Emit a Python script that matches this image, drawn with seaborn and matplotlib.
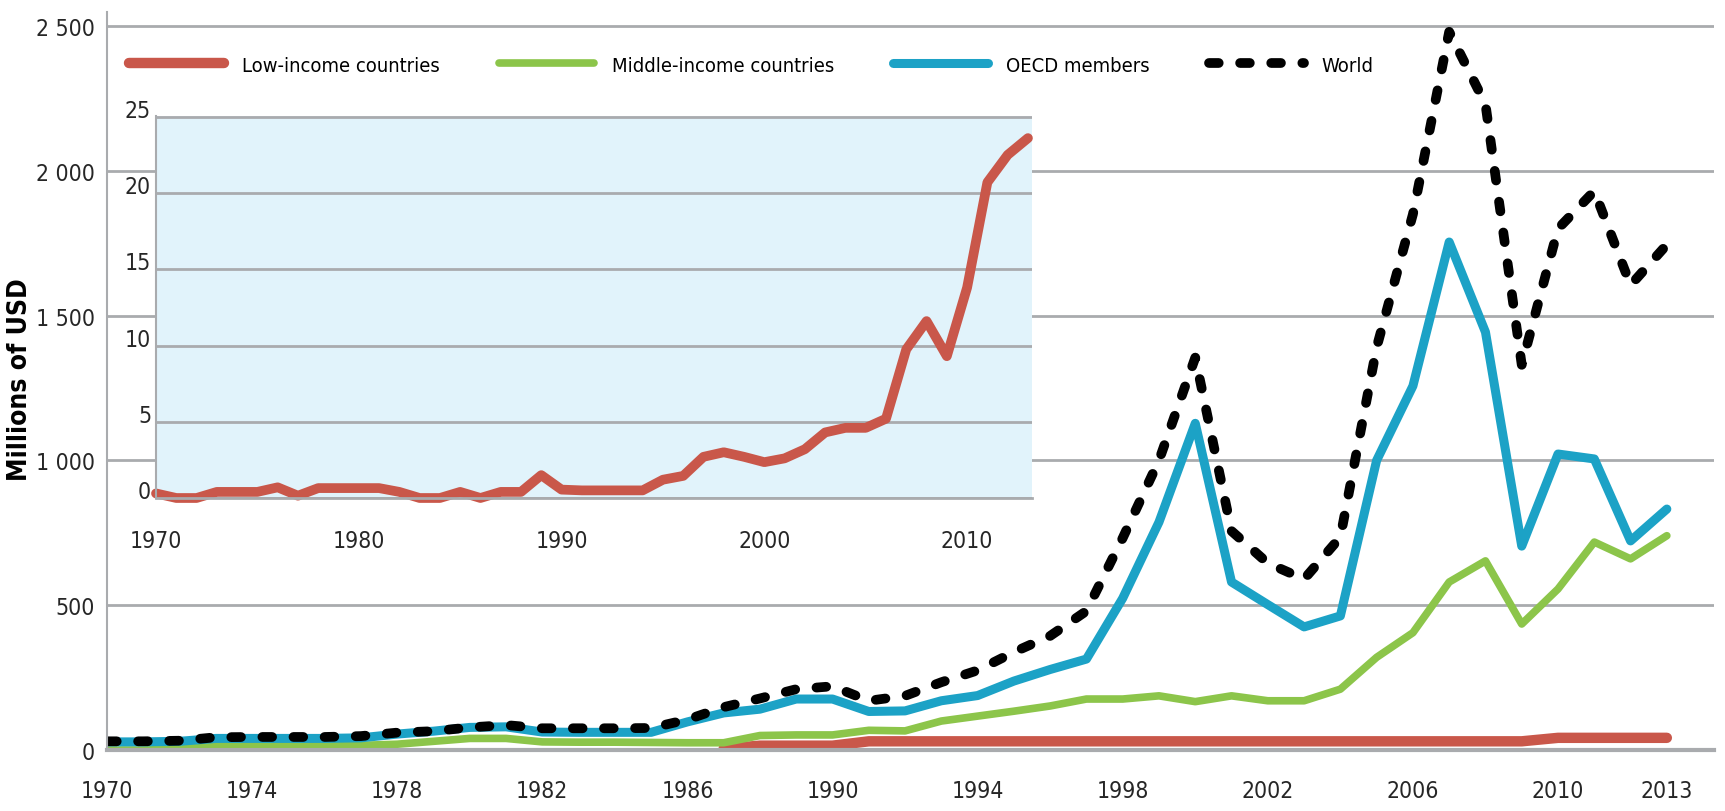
import numpy as np
import pandas as pd
import matplotlib
matplotlib.use("Agg")
import matplotlib.pyplot as plt
import seaborn as sns

# Data (millions of USD)
years = list(range(1970, 2014))

world = [30, 30, 32, 44, 45, 45, 45, 48, 60, 65,
         78, 86, 75, 75, 75, 76, 105, 148, 178, 210,
         220, 170, 187, 234, 275, 338, 394, 480, 732, 1000,
         1355, 756, 645, 590, 735, 1390, 1850, 2480, 2230, 1330,
         1800, 1930, 1605, 1745]

oecd = [28, 28, 30, 40, 40, 40, 40, 42, 55, 65,
        78, 80, 62, 61, 61, 61, 97, 128, 141, 176,
        176, 133, 135, 170, 188, 238, 278, 314, 524, 787,
        1128, 580, 502, 425, 463, 1000, 1257, 1754, 1443, 704,
        1022, 1005, 722, 832]

middle_income = [0, 0, 5, 14, 15, 15, 15, 16, 20, 30,
                 40, 40, 28, 27, 27, 26, 25, 25, 50, 52,
                 52, 68, 66, 100, 117, 134, 152, 176, 176, 187,
                 167, 187, 170, 170, 210, 320, 405, 580, 653, 435,
                 556, 718, 660, 740]

low_income = [None] * 17 + [5, 15, 15, 15] + [30] * 19 + [42, 42, 42, 42]

# inset: low-income countries on their own scale
low_income_inset = [0.3, 0, 0, 0.4, 0.4, 0.4, 0.7, 0.15, 0.65, 0.65,
                    0.65, 0.65, 0.4, 0, 0, 0.4, 0, 0.4, 0.4, 1.5,
                    0.55, 0.5, 0.5, 0.5, 0.5, 1.2, 1.45, 2.7, 3.0, 2.7,
                    2.35, 2.6, 3.2, 4.3, 4.6, 4.6, 5.2, 9.75, 11.6, 9.3,
                    13.8, 20.7, 22.5, 23.6]

x_ticks = list(range(1970, 2015))
x_labelled = [1970, 1974, 1978, 1982, 1986, 1990, 1994, 1998, 2002, 2006, 2010, 2013]
y_ticks = [0, 500, 1000, 1500, 2000, 2500]
y_tick_labels = ["0", "500", "1 000", "1 500", "2 000", "2 500"]
inset_x_ticks = [1970, 1980, 1990, 2000, 2010]
inset_y_ticks = [0, 5, 10, 15, 20, 25]

RED = "#c9574a"
GREEN = "#8cc54a"
BLUE = "#1ca2c6"
GRID = "#a9abae"
INSET_BG = "#e1f3fb"
TICK_FS = 16.5
LEG_FS = 14.5

sns.set_style("white")
plt.rcParams["font.family"] = ["Liberation Sans Narrow", "DejaVu Sans"]
plt.rcParams["font.stretch"] = "condensed"
plt.rcParams["text.color"] = "black"

df = pd.DataFrame({
    "year": years,
    "world": world,
    "oecd": oecd,
    "middle": middle_income,
    "low": pd.to_numeric(pd.Series(low_income), errors="coerce"),
    "low_inset": low_income_inset,
})

fig = plt.figure(figsize=(17.25, 8.12), dpi=100)
ax = fig.add_axes([107 / 1725, 61 / 812, (1714 - 107) / 1725, (751 - 12.5) / 812])

line_kw = dict(ax=ax, errorbar=None)
sns.lineplot(data=df.dropna(subset=["low"]), x="year", y="low", color=RED, lw=7.5,
             solid_capstyle="round", label="Low-income countries", **line_kw)
sns.lineplot(data=df, x="year", y="middle", color=GREEN, lw=5.5,
             solid_capstyle="round", label="Middle-income countries", **line_kw)
sns.lineplot(data=df, x="year", y="oecd", color=BLUE, lw=6.5,
             solid_capstyle="round", label="OECD members", **line_kw)
sns.lineplot(data=df, x="year", y="world", color="black", lw=7,
             linestyle=(0, (1.0, 2.2)), dash_capstyle="round", label="World", **line_kw)

ax.set_xlim(1970, 2014.3)
ax.set_ylim(0, 2550)
ax.set_xticks(x_ticks)
ax.set_xticklabels([str(y) if y in x_labelled else "" for y in x_ticks])
ax.set_yticks(y_ticks)
ax.set_yticklabels(y_tick_labels)
ax.set_xlabel("")
ax.set_ylabel("")
ax.set_axisbelow(True)
ax.yaxis.grid(True, color=GRID, lw=2)
ax.xaxis.grid(False)
for side in ["top", "right"]:
    ax.spines[side].set_visible(False)
ax.spines["left"].set_color(GRID)
ax.spines["left"].set_linewidth(1.5)
ax.spines["bottom"].set_color(GRID)
ax.spines["bottom"].set_linewidth(3)
ax.tick_params(axis="x", length=8.6, width=1, color=GRID, pad=12, labelsize=TICK_FS)
ax.tick_params(axis="y", length=5, width=1.5, color=GRID, pad=4, labelsize=TICK_FS)

leg_px = LEG_FS * 100 / 72
leg = ax.legend(loc="center left", bbox_to_anchor=(129 / 1725, 1 - 66 / 812),
                bbox_transform=fig.transFigure, ncol=4, frameon=False,
                fontsize=LEG_FS, borderpad=0, borderaxespad=0,
                handlelength=95 / leg_px, handletextpad=18 / leg_px,
                columnspacing=59 / leg_px)
leg.set_zorder(10)

fig.text(20 / 1725, 1 - 380 / 812, "Millions of USD", rotation=90,
         fontsize=19, fontweight="bold", ha="center", va="center")

# inset
ins = fig.add_axes([156 / 1725, (812 - 499) / 812, 876 / 1725, (499 - 117) / 812])
ins.set_facecolor(INSET_BG)
sns.lineplot(data=df, x="year", y="low_inset", ax=ins, color=RED, lw=7,
             errorbar=None, solid_capstyle="round", clip_on=False)
ins.set_xlim(1970, 2013.2)
ins.set_ylim(0, 25.05)
ins.set_xticks(inset_x_ticks)
ins.set_xticklabels([str(t) for t in inset_x_ticks])
ins.set_yticks(inset_y_ticks)
ins.set_yticklabels([str(t) for t in inset_y_ticks])
ins.set_xlabel("")
ins.set_ylabel("")
ins.set_axisbelow(True)
ins.yaxis.grid(True, color=GRID, lw=2)
ins.xaxis.grid(False)
for side in ["top", "right"]:
    ins.spines[side].set_visible(False)
ins.spines["left"].set_color(GRID)
ins.spines["left"].set_linewidth(1.5)
ins.spines["bottom"].set_color(GRID)
ins.spines["bottom"].set_linewidth(2)
ins.tick_params(axis="x", length=7, width=1, color=GRID, pad=15, labelsize=TICK_FS)
ins.tick_params(axis="y", length=0, pad=3.6, labelsize=TICK_FS)
for lbl in ins.get_yticklabels():
    lbl.set_va("baseline")

fig.savefig("out.png", dpi=100)
